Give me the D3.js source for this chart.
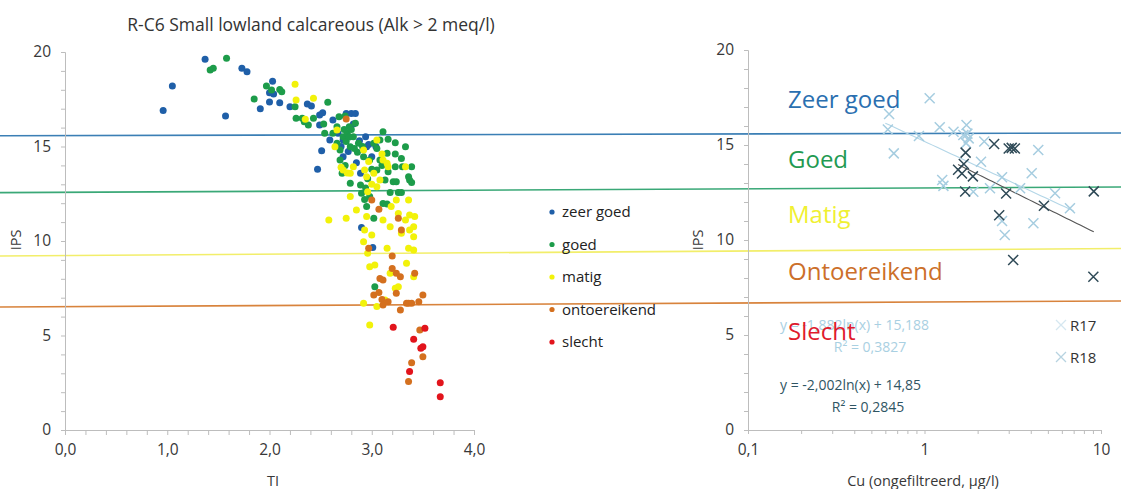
<!DOCTYPE html>
<html><head><meta charset="utf-8">
<script src="https://cdn.jsdelivr.net/npm/d3@7"></script>
<style>
html,body{margin:0;padding:0;background:#fff;}
svg{display:block;font-family:"Open Sans",sans-serif;}
</style></head>
<body>
<svg id="c" width="1121" height="489"></svg>
<script>
// ---------- DATA ----------
const title = "R-C6 Small lowland calcareous (Alk > 2 meq/l)";
const leftXTicks = [0, 1, 2, 3, 4];
const leftYTicks = [0, 5, 10, 15, 20];
const rightXTicks = [0.1, 1, 10];
const rightXTickLabels = ["0,1", "1", "10"];
const rightYTicks = [0, 5, 10, 15, 20];

const classNames = ["zeer goed", "goed", "matig", "ontoereikend", "slecht"];
const classLabelsRight = ["Zeer goed", "Goed", "Matig", "Ontoereikend", "Slecht"];
// threshold lines: value at the left edge (left scale) and right edge (right scale)
const thresholdLeft = [15.57, 12.56, 9.21, 6.51];
const thresholdRight = [15.63, 12.79, 9.55, 6.79];

// [TI, IPS]
const zeerGoed = [[0.96,16.9],[1.05,18.2],[1.37,19.61],[1.57,16.61],[1.73,19.14],[1.78,18.96],[1.91,17.0],[2.0,17.85],[2.03,18.45],[2.04,17.78],[2.0,17.35],[2.1,17.32],[2.2,17.1],[2.37,17.25],[2.41,17.14],[2.49,16.67],[2.52,16.79],[2.49,16.14],[2.51,14.78],[2.47,13.79],[2.62,16.4],[2.59,15.34],[2.75,16.75],[2.8,16.75],[2.84,16.75],[2.82,16.19],[2.72,14.46],[2.85,14.14],[2.77,14.73],[2.94,15.52],[2.95,14.99],[2.89,13.58],[3.0,14.46],[3.01,9.66],[2.9,10.72],[2.72,15.34],[2.67,15.7],[2.97,15.1],[2.7,15.0],[2.88,15.3],[3.04,15.0]];
const goed = [[1.42,19.05],[1.45,19.14],[1.58,19.67],[1.85,17.51],[1.97,18.2],[2.02,17.99],[2.12,17.9],[2.1,18.02],[2.26,16.49],[2.25,17.1],[2.32,16.49],[2.34,16.31],[2.38,16.14],[2.43,16.49],[2.57,17.34],[2.53,16.19],[2.54,15.7],[2.62,15.7],[2.66,16.05],[2.68,16.58],[2.74,16.61],[2.78,16.05],[2.84,16.23],[2.66,15.17],[2.69,14.81],[2.72,15.52],[2.75,15.26],[2.79,14.99],[2.82,15.52],[2.87,15.17],[2.69,14.29],[2.71,13.58],[2.79,13.05],[2.89,12.96],[2.9,12.52],[2.93,12.2],[2.95,11.82],[2.98,12.35],[3.02,11.2],[3.03,7.58],[2.92,14.46],[2.98,14.29],[3.02,15.17],[3.05,13.76],[3.08,14.29],[3.08,15.34],[3.11,15.78],[3.15,14.64],[3.16,15.38],[3.23,15.2],[3.33,14.99],[3.23,14.6],[3.29,14.37],[3.3,13.93],[3.39,13.93],[3.36,13.4],[3.37,13.23],[3.39,13.09],[3.21,13.14],[3.24,13.14],[3.16,13.67],[3.13,13.23],[3.18,12.56],[3.26,12.56],[3.29,12.56],[3.11,11.99],[3.15,11.96],[3.23,13.93],[2.76,15.7],[2.8,15.9],[2.86,14.7],[3.05,14.9],[2.96,13.3],[2.73,15.9],[2.78,15.5],[2.83,14.9],[2.91,15.0],[3.0,13.8],[3.1,14.0],[2.74,14.0],[2.94,12.8]];
const matig = [[2.25,18.3],[2.26,17.46],[2.43,17.55],[2.35,16.44],[2.58,11.11],[2.75,11.2],[2.79,12.35],[2.85,11.64],[2.64,14.99],[2.66,15.87],[2.72,13.76],[2.79,13.58],[2.82,13.93],[2.92,14.81],[2.93,13.76],[2.95,13.4],[2.93,10.58],[2.95,11.29],[2.92,9.96],[2.96,9.35],[2.98,8.64],[3.0,10.32],[3.03,8.73],[2.92,6.7],[2.98,5.56],[3.05,6.53],[3.02,13.58],[3.05,12.87],[3.08,13.23],[3.11,14.29],[3.15,14.11],[3.16,13.93],[3.11,11.11],[3.18,10.76],[3.19,11.82],[3.24,12.17],[3.26,11.46],[3.15,9.61],[3.18,8.29],[3.23,7.5],[3.26,7.58],[3.29,10.41],[3.33,11.11],[3.37,10.58],[3.42,11.29],[3.41,10.76],[3.41,10.23],[3.36,9.61],[3.41,9.52],[3.34,8.82],[3.41,8.11],[3.36,12.17],[3.37,11.38],[3.33,13.93],[3.13,6.88],[3.05,15.34],[2.97,14.2],[3.0,13.0],[2.7,13.9],[2.76,13.6],[2.96,12.6],[3.1,14.6]];
const ontoereikend = [[2.75,16.46],[3.0,12.17],[3.07,11.68],[2.97,9.61],[3.26,11.2],[3.29,10.58],[3.2,9.21],[3.2,8.55],[3.24,8.29],[3.28,8.11],[3.08,8.02],[3.11,7.94],[3.42,8.29],[3.02,7.14],[3.07,7.27],[3.1,6.91],[3.11,6.61],[3.16,6.79],[3.24,7.23],[3.28,6.35],[3.34,6.7],[3.36,6.7],[3.39,6.7],[3.46,6.79],[3.5,7.14],[3.47,5.29],[3.5,3.88],[3.39,3.56],[3.36,2.56]];
const slecht = [[3.21,5.43],[3.41,4.8],[3.52,5.38],[3.5,4.41],[3.48,4.32],[3.37,3.09],[3.67,2.5],[3.67,1.76]];
const leftSeries = [zeerGoed, goed, matig, ontoereikend, slecht];

// [Cu, IPS]
const r17 = [[0.62,15.82],[0.63,16.63],[0.67,14.56],[0.93,15.47],[1.07,17.46],[1.22,15.93],[1.26,13.16],[1.28,12.85],[1.46,15.7],[1.66,15.53],[1.73,16.05],[1.75,15.6],[1.72,15.1],[1.78,15.35],[1.89,12.54],[2.09,14.12],[2.18,15.18],[2.35,12.72],[2.75,13.3],[2.75,11.0],[2.85,10.26],[3.48,12.72],[4.05,13.51],[4.14,10.88],[4.41,14.74],[5.49,12.46],[6.67,11.67]];
const r18 = [[1.55,13.7],[1.63,13.5],[1.67,14.0],[1.71,14.6],[1.7,12.55],[1.88,13.35],[2.48,15.05],[3.0,14.82],[3.12,14.85],[3.25,14.82],[2.9,12.45],[2.65,11.3],[3.18,8.95],[4.75,11.8],[9.1,12.56],[9.05,8.07]];
const seriesRight = ["R17", "R18"];
const trendCoef = [[-1.882, 15.188], [-2.002, 14.85]];
const trendRange = [[0.6, 7.0], [1.55, 9.1]];
const eqTexts = [["y = -1,882ln(x) + 15,188", "R² = 0,3827"], ["y = -2,002ln(x) + 14,85", "R² = 0,2845"]];

// ---------- STYLE ----------
const dotColors = ["#1f5fa8", "#1d9c4a", "#f2f20a", "#d4701f", "#e2141c"];
const lineColors = ["#3b7fb5", "#3aa877", "#f2ee6a", "#d8833c"];
const labelColors = ["#2a6fb0", "#1f9a52", "#f0f032", "#cc6f2a", "#e01a2c"];
const xColors = ["#a6cde0", "#2f4a57"];
const trendColors = ["#b3d6e7", "#555555"];
const axisColor = "#bdbdbd";
const textColor = "#383838";

const svg = d3.select("#c");

// ---------- SCALES ----------
const xL = d3.scaleLinear().domain([0, 4]).range([65, 474]);
const yL = d3.scaleLinear().domain([0, 20]).range([430, 52]);
const xR = d3.scaleLog().domain([0.1, 10]).range([748, 1101]);
const yR = d3.scaleLinear().domain([0, 20]).range([430, 50]);

// ---------- THRESHOLD LINES ----------
thresholdLeft.forEach((v, i) => {
  svg.append("line")
    .attr("x1", 0).attr("y1", yL(v))
    .attr("x2", 1121).attr("y2", yR(thresholdRight[i]))
    .attr("stroke", lineColors[i]).attr("stroke-width", 1.6);
});

// ---------- LEFT CHART ----------
const gL = svg.append("g");
const yAxisL = d3.axisLeft(yL).tickValues(d3.range(0, 21, 1)).tickSize(4).tickFormat(d => leftYTicks.includes(d) ? d : "");
const gyL = gL.append("g").attr("transform", `translate(${xL(0)},0)`).call(yAxisL);
const xAxisL = d3.axisBottom(xL).tickValues(d3.range(0, 4.01, 0.2)).tickSize(5)
  .tickFormat(d => { const r = Math.round(d * 10) / 10; return leftXTicks.includes(r) ? d3.format(".1f")(r).replace(".", ",") : ""; });
const gxL = gL.append("g").attr("transform", `translate(0,${yL(0)})`).call(xAxisL);

[gyL, gxL].forEach(g => {
  g.select(".domain").attr("stroke", axisColor);
  g.selectAll(".tick line").attr("stroke", axisColor);
  g.selectAll(".tick text").attr("fill", textColor).style("font-size", "15.5px").style("font-family", "Open Sans");
});
gyL.selectAll(".tick text").attr("x", -14);
gxL.selectAll(".tick text").attr("y", 14);

gL.append("text").attr("x", 311).attr("y", 31).attr("text-anchor", "middle")
  .attr("fill", "#333").style("font-size", "17.5px").text(title);
gL.append("text").attr("transform", "translate(21,240) rotate(-90)").attr("text-anchor", "middle")
  .attr("fill", textColor).style("font-size", "14.5px").text("IPS");
gL.append("text").attr("x", 273).attr("y", 486).attr("text-anchor", "middle")
  .attr("fill", textColor).style("font-size", "14.5px").text("TI");

leftSeries.forEach((s, i) => {
  gL.append("g").selectAll("circle").data(s).join("circle")
    .attr("cx", d => xL(d[0])).attr("cy", d => yL(d[1])).attr("r", 3.5)
    .attr("fill", dotColors[i]);
});

// legend
classNames.forEach((n, i) => {
  const y = 212 + i * 32.5;
  gL.append("circle").attr("cx", 552).attr("cy", y).attr("r", 2.6).attr("fill", dotColors[i]);
  gL.append("text").attr("x", 562).attr("y", y + 5).attr("fill", "#222")
    .style("font-size", "15px").text(n);
});

// ---------- RIGHT CHART ----------
const gR = svg.append("g");
const yAxisR = d3.axisLeft(yR).tickValues(d3.range(0, 21, 1)).tickSize(4).tickFormat(d => rightYTicks.includes(d) ? d : "");
const gyR = gR.append("g").attr("transform", `translate(${xR(0.1)},0)`).call(yAxisR);
const minorR = [];
[0.1, 1].forEach(b => { for (let k = 1; k <= 9; k++) minorR.push(b * k); });
minorR.push(10);
const xAxisR = d3.axisBottom(xR).tickValues(minorR).tickSize(4)
  .tickFormat(d => { const idx = rightXTicks.findIndex(t => Math.abs(t - d) < 1e-9); return idx >= 0 ? rightXTickLabels[idx] : ""; });
const gxR = gR.append("g").attr("transform", `translate(0,${yR(0)})`).call(xAxisR);
[gyR, gxR].forEach(g => {
  g.select(".domain").attr("stroke", axisColor);
  g.selectAll(".tick line").attr("stroke", axisColor);
  g.selectAll(".tick text").attr("fill", textColor).style("font-size", "15.5px").style("font-family", "Open Sans");
});
gyR.selectAll(".tick text").attr("x", -14);
gxR.selectAll(".tick text").attr("y", 14);

gR.append("text").attr("transform", "translate(703,240) rotate(-90)").attr("text-anchor", "middle")
  .attr("fill", textColor).style("font-size", "14.5px").text("IPS");
gR.append("text").attr("x", 923).attr("y", 486).attr("text-anchor", "middle")
  .attr("fill", textColor).style("font-size", "14.5px").text("Cu (ongefiltreerd, µg/l)");

// equations
const eqPos = [[780, 330, 870, 352], [780, 390, 868, 412]];
const eqColors = ["#a9d0e2", "#2f5563"];
eqTexts.forEach((t, i) => {
  gR.append("text").attr("x", eqPos[i][0]).attr("y", eqPos[i][1]).attr("fill", eqColors[i])
    .style("font-size", "14px").text(t[0]);
  gR.append("text").attr("x", eqPos[i][2]).attr("y", eqPos[i][3]).attr("text-anchor", "middle").attr("fill", eqColors[i])
    .style("font-size", "14px").text(t[1]);
});

// class labels
const labelY = [108, 168, 223, 280, 340];
classLabelsRight.forEach((n, i) => {
  gR.append("text").attr("x", 788).attr("y", labelY[i]).attr("fill", labelColors[i])
    .style("font-size", "24px").text(n);
});

// trendlines
trendCoef.forEach((c, i) => {
  const pts = d3.range(0, 41).map(k => {
    const x = trendRange[i][0] * Math.pow(trendRange[i][1] / trendRange[i][0], k / 40);
    return [x, c[0] * Math.log(x) + c[1]];
  });
  gR.append("path").datum(pts)
    .attr("d", d3.line().x(d => xR(d[0])).y(d => yR(d[1])))
    .attr("fill", "none").attr("stroke", trendColors[i]).attr("stroke-width", 1.1);
});

// x markers
function drawX(g, cx, cy, s, col, w) {
  g.append("path").attr("d", `M${cx - s},${cy - s}L${cx + s},${cy + s}M${cx - s},${cy + s}L${cx + s},${cy - s}`)
    .attr("stroke", col).attr("stroke-width", w).attr("fill", "none");
}
[r17, r18].forEach((s, i) => {
  const g = gR.append("g");
  s.forEach(d => drawX(g, xR(d[0]), yR(d[1]), 5, xColors[i], 1.5));
});

// right legend
seriesRight.forEach((n, i) => {
  const y = 325 + i * 32;
  drawX(gR, 1061, y, 5, i === 0 ? "#d5e7f0" : "#b7d3e0", 1.3);
  gR.append("text").attr("x", 1070).attr("y", y + 6).attr("fill", "#333")
    .style("font-size", "15px").text(n);
});
</script>
</body></html>
